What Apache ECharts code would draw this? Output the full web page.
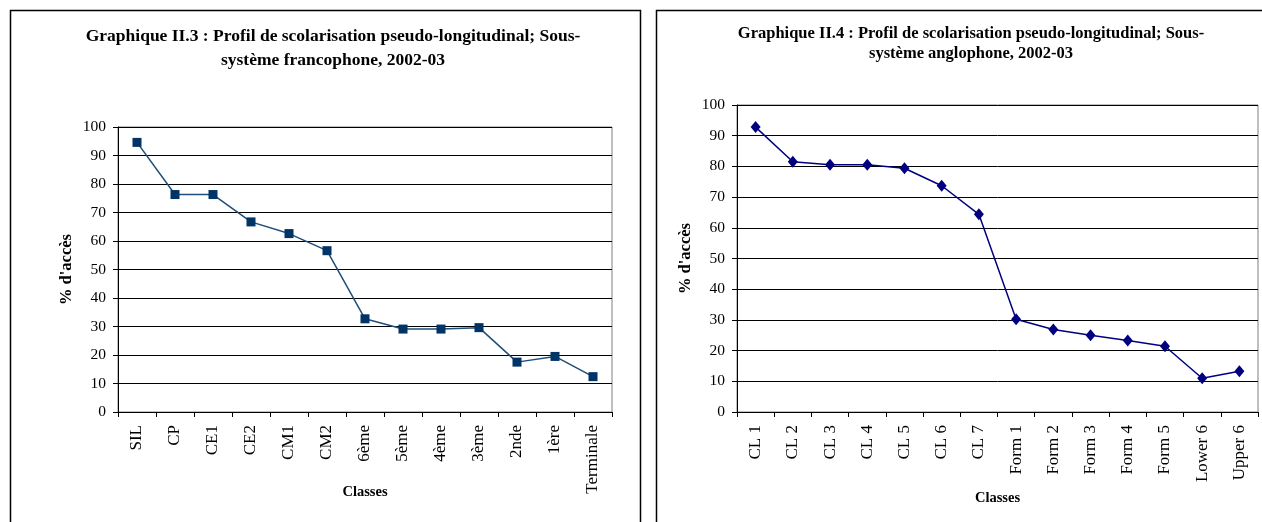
<!DOCTYPE html>
<html>
<head>
<meta charset="utf-8">
<script src="https://cdn.jsdelivr.net/npm/echarts@6/dist/echarts.min.js"></script>
<style>
html,body{margin:0;padding:0;background:#fff;}
#chart{width:1262px;height:522px;}
</style>
</head>
<body>
<div id="chart"></div>
<script>
// Data
const catsFranco = ['SIL','CP','CE1','CE2','CM1','CM2','6ème','5ème','4ème','3ème','2nde','1ère','Terminale'];
const valsFranco = [94.6, 76.3, 76.3, 66.7, 62.6, 56.6, 32.7, 29.1, 29.1, 29.6, 17.5, 19.5, 12.4];
const catsAnglo = ['CL 1','CL 2','CL 3','CL 4','CL 5','CL 6','CL 7','Form 1','Form 2','Form 3','Form 4','Form 5','Lower 6','Upper 6'];
const valsAnglo = [92.8, 81.5, 80.5, 80.5, 79.4, 73.7, 64.4, 30.2, 26.9, 25.0, 23.3, 21.4, 11.0, 13.3];
const titleFranco = "Graphique II.3 : Profil de scolarisation pseudo-longitudinal; Sous-\nsystème francophone, 2002-03";
const titleAnglo = "Graphique II.4 : Profil de scolarisation pseudo-longitudinal; Sous-\nsystème anglophone, 2002-03";
const yTicks = [0,10,20,30,40,50,60,70,80,90,100];

const FONT = '"Liberation Serif", "Times New Roman", serif';
const chart = echarts.init(document.getElementById('chart'), null, {renderer:'canvas'});

function xAxis(idx, cats, gap){
  return {
    type:'category', gridIndex:idx, data:cats, boundaryGap:true,
    name:'Classes', nameLocation:'middle', nameGap:gap, nameMoveOverlap:false,
    nameTextStyle:{fontFamily:FONT, fontWeight:'bold', fontSize:14.5, color:'#000'},
    axisLine:{show:true, lineStyle:{color:'#000', width:1}},
    axisTick:{show:true, inside:false, length:5, lineStyle:{color:'#000'}},
    axisLabel:{rotate:90, fontFamily:FONT, fontSize:17, color:'#000', margin:13, interval:0},
    splitLine:{show:false}
  };
}
function yAxis(idx){
  return {
    type:'value', gridIndex:idx, min:yTicks[0], max:yTicks[yTicks.length-1], interval:10,
    name:"% d'accès", nameLocation:'middle', nameGap:43,
    nameTextStyle:{fontFamily:FONT, fontWeight:'bold', fontSize:16.5, color:'#000'},
    axisLine:{show:true, lineStyle:{color:'#000', width:1}},
    axisTick:{show:true, inside:false, length:5, lineStyle:{color:'#000'}},
    axisLabel:{fontFamily:FONT, fontSize:15.5, color:'#000', margin:12},
    splitLine:{show:true, lineStyle:{color:'#000', width:1}}
  };
}

chart.setOption({
  animation:false,
  backgroundColor:'#fff',
  title:[
    {text:titleFranco, left:328, top:19, textAlign:'center',
     textStyle:{fontFamily:FONT, fontWeight:'bold', fontSize:17.5, lineHeight:24, color:'#000', align:'center'}},
    {text:titleAnglo, left:966, top:19, textAlign:'center',
     textStyle:{fontFamily:FONT, fontWeight:'bold', fontSize:16.5, lineHeight:20, color:'#000', align:'center'}}
  ],
  grid:[
    {left:118, top:127, width:494, height:285, show:true, borderColor:'#808080', borderWidth:1, backgroundColor:'transparent'},
    {left:737, top:105, width:521, height:307, show:true, borderColor:'#808080', borderWidth:1, backgroundColor:'transparent'}
  ],
  xAxis:[xAxis(0, catsFranco, 73), xAxis(1, catsAnglo, 79)],
  yAxis:[yAxis(0), yAxis(1)],
  series:[
    {type:'line', xAxisIndex:0, yAxisIndex:0, data:valsFranco,
     symbol:'rect', symbolSize:9, lineStyle:{color:'#1f4e79', width:1.5},
     itemStyle:{color:'#003366'}},
    {type:'line', xAxisIndex:1, yAxisIndex:1, data:valsAnglo,
     symbol:'diamond', symbolSize:[10,12], lineStyle:{color:'#000080', width:1.5},
     itemStyle:{color:'#000080'}}
  ],
  graphic:[
    {type:'rect', shape:{x:10.5, y:10.5, width:630, height:530}, style:{fill:'none', stroke:'#000', lineWidth:1.5}, silent:true},
    {type:'rect', shape:{x:656.5, y:10.5, width:630, height:530}, style:{fill:'none', stroke:'#000', lineWidth:1.5}, silent:true}
  ]
});
</script>
</body>
</html>
